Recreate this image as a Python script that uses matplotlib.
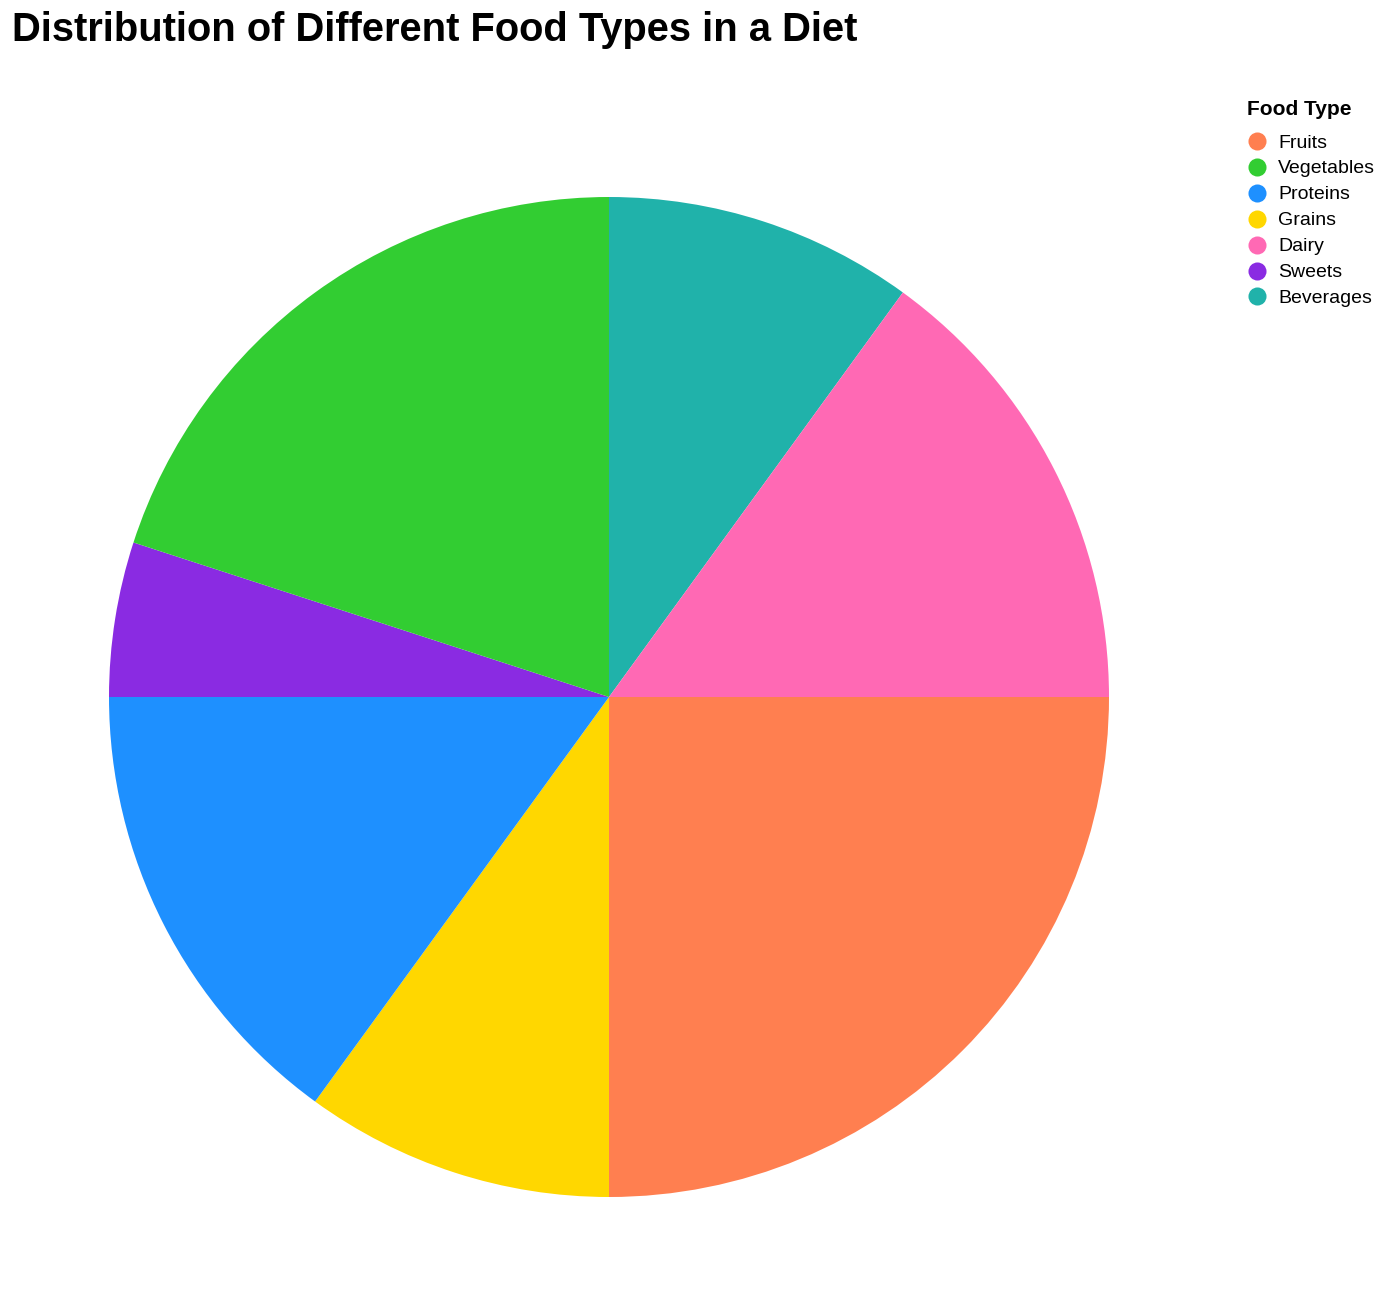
import matplotlib
matplotlib.use("Agg")
import matplotlib.pyplot as plt
from matplotlib.lines import Line2D

plt.rcParams['font.family'] = ['Liberation Sans', 'DejaVu Sans']

categories = ["Fruits", "Vegetables", "Proteins", "Grains", "Dairy", "Sweets", "Beverages"]
percentages = [25, 20, 15, 10, 15, 5, 10]
colors = ["#FF7F50", "#32CD32", "#1E90FF", "#FFD700", "#FF69B4", "#8A2BE2", "#20B2AA"]

W, H = 1388, 1308
fig = plt.figure(figsize=(W / 100, H / 100), dpi=100)

# pie order: alphabetical by category, clockwise from 12 o'clock
order = sorted(range(len(categories)), key=lambda i: categories[i])
cx, cy, r = 609, 697, 500
ax = fig.add_axes([(cx - r) / W, 1 - (cy + r) / H, 2 * r / W, 2 * r / H])
ax.pie([percentages[i] for i in order], colors=[colors[i] for i in order],
       startangle=90, counterclock=False, radius=1.0,
       wedgeprops=dict(linewidth=0))
ax.set_xlim(-1, 1)
ax.set_ylim(-1, 1)
ax.set_aspect('equal')
ax.axis('off')

fig.text(12 / W, 1 - 41 / H, "Distribution of Different Food Types in a Diet",
         fontsize=28.7, fontweight='bold', ha='left', va='baseline')

# legend
fig.text(1247 / W, 1 - 115 / H, "Food Type", fontsize=15, fontweight='bold',
         ha='left', va='baseline')
for k, (cat, col) in enumerate(zip(categories, colors)):
    y = 141 + 25.9 * k
    fig.add_artist(Line2D([1257 / W], [1 - y / H], marker='o', markersize=13,
                          markerfacecolor=col, markeredgewidth=0, linestyle='none',
                          transform=fig.transFigure))
    fig.text(1278 / W, 1 - y / H, cat, fontsize=14, ha='left', va='center_baseline')

fig.savefig("out.png", dpi=100)
